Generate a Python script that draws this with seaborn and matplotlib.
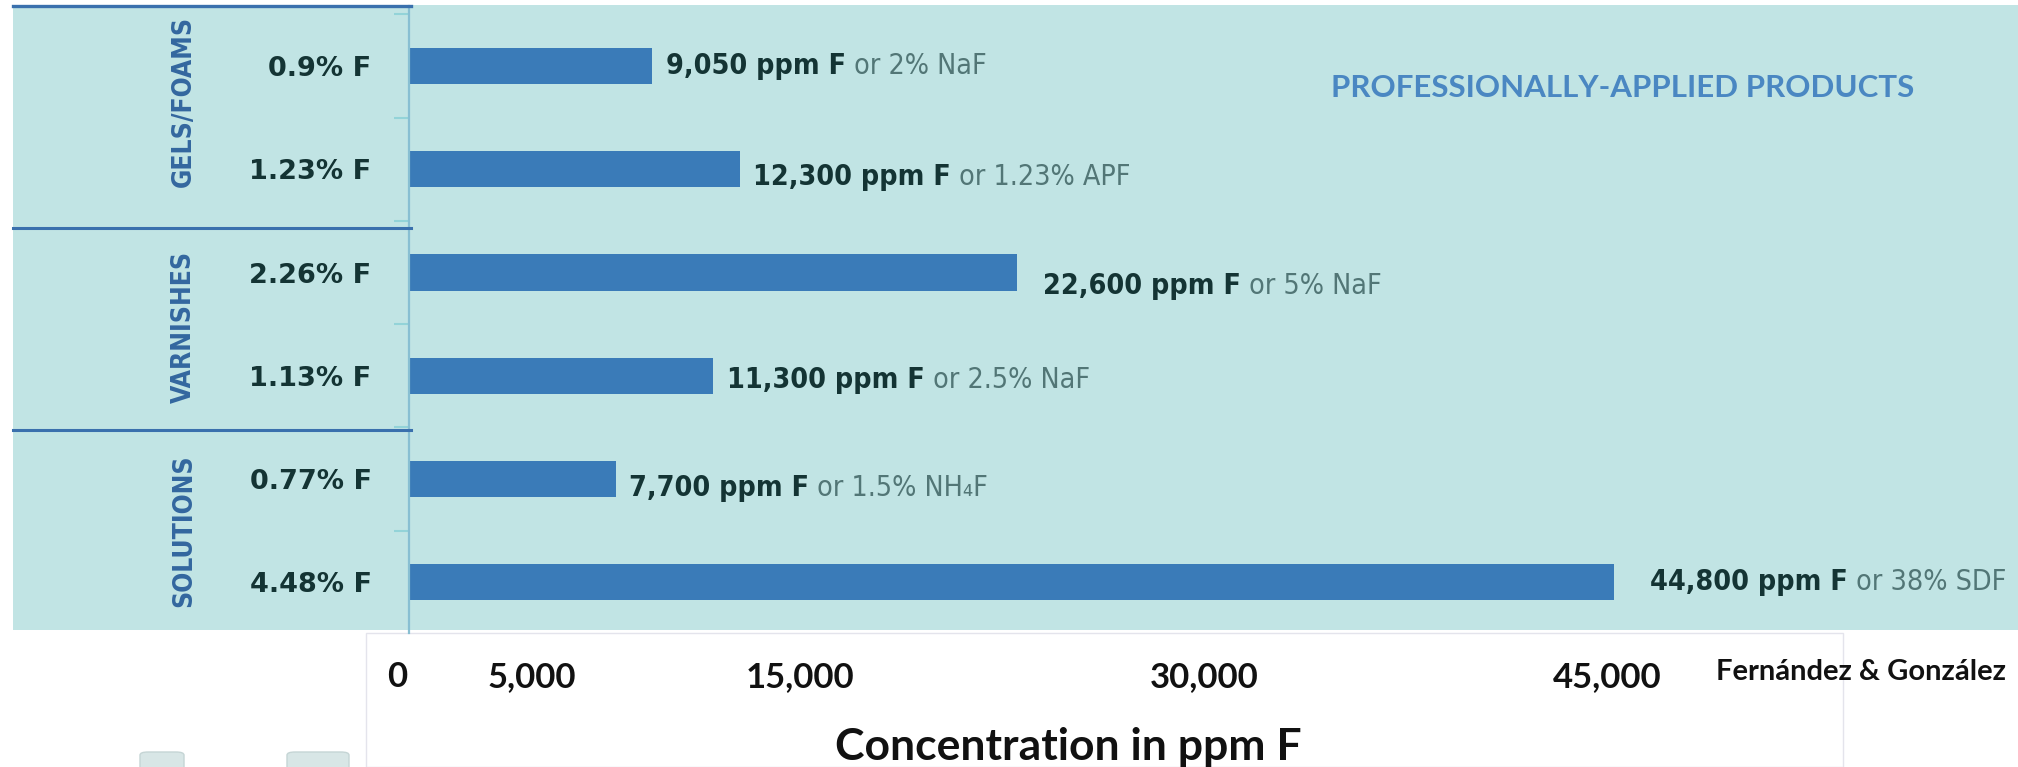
import matplotlib
matplotlib.use("Agg")
import matplotlib.pyplot as plt
import matplotlib.transforms as mtransforms
from matplotlib.patches import Rectangle, FancyBboxPatch
from matplotlib.lines import Line2D
import pandas as pd
import seaborn as sns

# ---- data ----
strength_labels = ["0.9% F", "1.23% F", "2.26% F", "1.13% F", "0.77% F", "4.48% F"]
ppm_values = [9050, 12300, 22600, 11300, 7700, 44800]
product_notes = [" or 2% NaF", " or 1.23% APF", " or 5% NaF",
                 " or 2.5% NaF", " or 1.5% NH\u2084F", " or 38% SDF"]
groups = ["GELS/FOAMS", "VARNISHES", "SOLUTIONS"]
group_sizes = [2, 2, 2]
tick_values = [0, 5000, 15000, 30000, 45000]
tick_labels = ["0", "5,000", "15,000", "30,000", "45,000"]

# ---- layout / style ----
W, H = 2018, 767
PANEL = "#c1e4e4"
BAR = "#3a7bb8"
LINE_BLUE = "#3a70ad"
GROUP_BLUE = "#33679f"
TITLE_BLUE = "#4a87c2"
DARK = "#143434"
SOFT = "#527676"
label_dx_px = [14, 13, 26, 14, 13, 36]
label_dy_px = [0, 8, 13, 4, 9, 0]
group_dy = [-0.16, 0.03, 0.0]
sep_nudge = [0.07, 0.02]

fig = plt.figure(figsize=(W / 100, H / 100), dpi=100)
fig.patch.set_facecolor("white")

# teal panel behind the chart
fig.add_artist(Rectangle((13 / W, (H - 630) / H), (W - 13) / W, (630 - 5) / H,
                         transform=fig.transFigure, facecolor=PANEL,
                         edgecolor="none", zorder=-10))
# white strip holding the axis labels
fig.add_artist(Rectangle((366 / W, 0), (1843 - 366) / W, (H - 633) / H,
                         transform=fig.transFigure, facecolor="white",
                         edgecolor="#e4e4ec", linewidth=1, zorder=-5))
# product containers peeking in at the bottom
for x0, w0 in ((140, 44), (287, 62)):
    fig.add_artist(FancyBboxPatch((x0 / W, -12 / H), w0 / W, 27 / H,
                                  boxstyle="round,pad=0,rounding_size=0.004",
                                  transform=fig.transFigure, facecolor="#d8e6e6",
                                  edgecolor="#c5d5d5", linewidth=1, zorder=-4))

ax = fig.add_axes([409 / W, (H - 633) / H, (W - 409) / W, (633 - 6) / H])
ax.set_facecolor("none")

df = pd.DataFrame({"strength": strength_labels, "ppm": ppm_values})
sns.barplot(data=df, x="ppm", y="strength", orient="h", color=BAR,
            saturation=1, width=0.35, ax=ax, linewidth=0)

ax.set_xlim(0, (W - 409) / 0.026897)
ax.set_ylim(5.49, -0.58)

for side in ("top", "right", "bottom"):
    ax.spines[side].set_visible(False)
ax.spines["left"].set_color("#88bfd2")
ax.spines["left"].set_linewidth(1.6)

ax.set_yticks(range(len(strength_labels)))
ax.set_yticklabels(strength_labels, fontfamily="DejaVu Sans",
                   fontweight="bold", fontsize=19.5, color=DARK)
ax.set_yticks([k - 0.5 for k in range(len(strength_labels))], minor=True)
ax.tick_params(axis="y", which="major", length=0, pad=27)
ax.tick_params(axis="y", which="minor", length=11, width=1.5, color="#93d3d8")

ax.set_xticks(tick_values)
ax.set_xticklabels(tick_labels, fontfamily="Lato", fontweight="bold",
                   fontsize=25, color="#111111")
ax.tick_params(axis="x", length=0, pad=20)
shift = mtransforms.ScaledTranslation(-12 / 100, 0, fig.dpi_scale_trans)
for lbl in ax.get_xticklabels():
    lbl.set_transform(lbl.get_transform() + shift)

ax.set_xlabel("Concentration in ppm F", fontfamily="Lato", fontweight="bold",
              fontsize=32, color="#111111")
ax.xaxis.set_label_coords((1068 - 409) / (W - 409), (633 - 747) / (633 - 6))
ax.xaxis.label.set_va("center")
ax.set_ylabel("")

# value annotations: bold concentration + lighter product equivalent
for i, (v, note) in enumerate(zip(ppm_values, product_notes)):
    t1 = ax.annotate(f"{v:,} ppm F", xy=(v, i),
                     xytext=(label_dx_px[i], -label_dy_px[i]),
                     textcoords="offset pixels", ha="left", va="center",
                     fontfamily="DejaVu Sans", fontstretch="condensed",
                     fontweight="bold", fontsize=20.5, color=DARK)
    ax.annotate(note, xy=(1, 0), xycoords=t1, ha="left", va="bottom",
                fontfamily="DejaVu Sans", fontstretch="condensed",
                fontsize=20.5, color=SOFT)

# group separators and rotated group names in the left margin
trans = mtransforms.blended_transform_factory(fig.transFigure, ax.transData)
fig.add_artist(Line2D([13 / W, 411 / W], [-0.58, -0.58], transform=trans,
                      color=LINE_BLUE, linewidth=2.4))
start = 0
for g, (name, size) in enumerate(zip(groups, group_sizes)):
    if start > 0:
        yb = start - 0.5 + sep_nudge[g - 1]
        fig.add_artist(Line2D([13 / W, 411 / W], [yb, yb], transform=trans,
                              color=LINE_BLUE, linewidth=2.2))
    yc = start + (size - 1) / 2 + group_dy[g]
    ax.text(184 / W, yc, name, transform=trans, rotation=90, ha="center",
            va="center", fontfamily="DejaVu Sans", fontstretch="condensed",
            fontweight="bold", fontsize=19, color=GROUP_BLUE, clip_on=False)
    start += size

fig.text(1623 / W, 1 - 88 / H, "PROFESSIONALLY-APPLIED PRODUCTS",
         ha="center", va="center", fontfamily="Lato", fontweight="bold",
         fontsize=22.5, color=TITLE_BLUE)
fig.text(1716 / W, 1 - 672 / H, "Fernández & González", ha="left",
         va="center", fontfamily="Lato", fontweight="bold", fontsize=21,
         color="#111111")

fig.savefig("out.png", dpi=100)
